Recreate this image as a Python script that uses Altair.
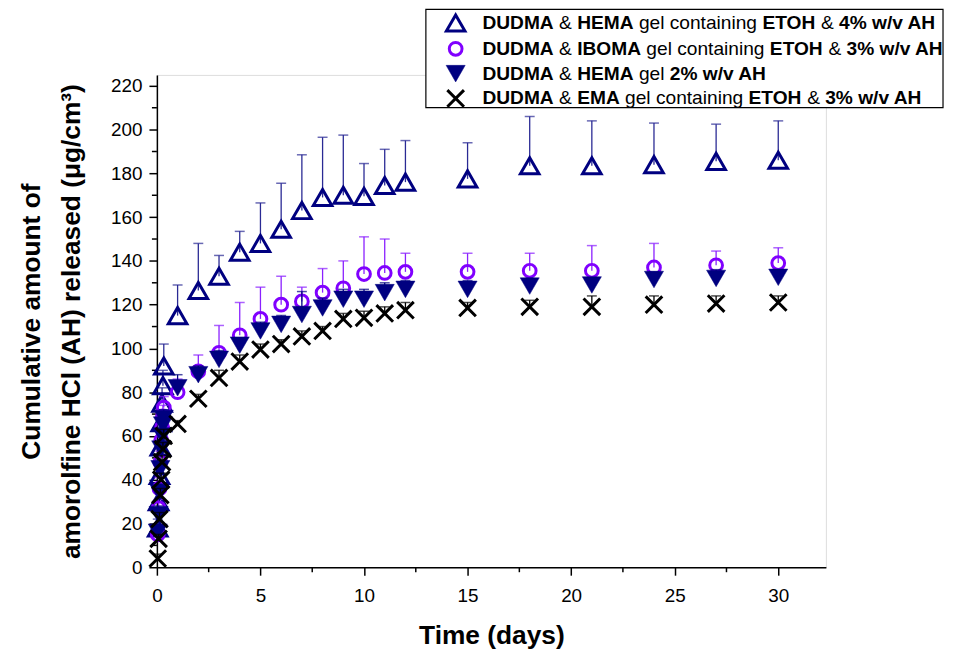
import altair as alt
import pandas as pd

# ---------------- data ----------------
early_t = [0.0417, 0.0833, 0.125, 0.1667, 0.2083, 0.25, 0.2917, 0.3333]
late_t = [1, 2, 3, 4, 5, 6, 7, 8, 9, 10, 11, 12, 15, 18, 21, 24, 27, 30]
times = early_t + late_t

s1_val = [18, 30, 42, 55, 66, 75, 83, 92,
          115, 126.5, 133, 144, 148, 154.5, 163, 169, 170, 169.5, 174.5, 176, 177.5, 183.5, 183.5, 184, 185.5, 186]
s1_err = [22, 36, 48, 62, 72, 82, 90, 102,
          129, 148, 142.5, 153.5, 166.5, 175.5, 188.5, 196.5, 197.5, 184.5, 191, 195, 194, 206, 204, 203, 202.5, 204]

s2_val = [15, 27, 36, 48, 58, 64, 69, 73,
          80, 89.5, 98, 106, 113.5, 120, 121.5, 125.5, 127.5, 134, 134.5, 135, 135, 135.5, 135.5, 137, 138, 139]
s2_err = [18, 31, 41, 53, 63, 69, 74, 78,
          86, 97, 110.5, 121, 128, 133, 128, 136.5, 140, 151, 150, 143.5, 143.5, 143.5, 147, 148, 144.5, 146]

s3_val = [16, 24, 34, 45, 54, 60, 65, 68,
          82, 88, 95, 101.5, 108, 111, 115.5, 118.5, 122.5, 122.5, 125.5, 127, 127, 128.5, 129, 131.5, 132, 132.5]
s3_err = [19, 28, 38, 49, 58, 64, 69, 72,
          88, 92, 99, 104, 112, 115, 126, 123, 127, 127, 130, 131, 131, 132, 132, 135, 136, 136]

s4_val = [4, 13, 22, 33, 40, 48, 54, 60,
          65.5, 77, 86.5, 94, 99.5, 102, 105.5, 108, 113.5, 114, 116, 117.5, 118.5, 119, 119, 120, 120.5, 121]
s4_err = [6, 15, 25, 36, 43, 51, 57, 63,
          67, 79, 90, 97, 102, 104, 108, 110, 116, 117, 119, 121, 121, 122, 124, 124, 124, 124]

x_ticks = [0, 5, 10, 15, 20, 25, 30]
x_minor = [2.5, 7.5, 12.5, 17.5, 22.5, 27.5]
y_ticks = list(range(0, 221, 20))
y_minor = list(range(10, 221, 20))

legend_rows = [
    [("DUDMA", True), (" & ", False), ("HEMA", True), (" gel containing ", False), ("ETOH", True), (" & ", False), ("4% w/v AH", True)],
    [("DUDMA", True), (" & ", False), ("IBOMA", True), (" gel containing ", False), ("ETOH", True), (" & ", False), ("3% w/v AH", True)],
    [("DUDMA", True), (" & ", False), ("HEMA", True), (" gel ", False), ("2% w/v AH", True)],
    [("DUDMA", True), (" & ", False), ("EMA", True), (" gel containing ", False), ("ETOH", True), (" & ", False), ("3% w/v AH", True)],
]

# ---------------- layout ----------------
W, H = 674, 496
XDOM = [0, 32.3]
YDOM = [0, 225]
FONT = "Liberation Sans"
XPATH = "M-1,-1L1,1M-1,1L1,-1"

xs = alt.Scale(domain=XDOM, nice=False, zero=False)
ys = alt.Scale(domain=YDOM, nice=False)

series = [
    dict(val=s1_val, err=s1_err, color="#000080", ecolor="#2a2a94", shape="triangle-up", filled=False, size=350, sw=3),
    dict(val=s2_val, err=s2_err, color="#8000FF", ecolor="#8a20ff", shape="circle", filled=False, size=165, sw=3),
    dict(val=s3_val, err=s3_err, color="#000080", ecolor="#000080", shape="triangle-down", filled=True, size=370, sw=0),
    dict(val=s4_val, err=s4_err, color="#000000", ecolor="#000000", shape=XPATH, filled=False, size=280, sw=3),
]

layers = []

# axes carrier
base_df = pd.DataFrame({"t": times, "v": s1_val})
axis_layer = alt.Chart(base_df).mark_point(opacity=0).encode(
    x=alt.X("t:Q", scale=xs, axis=alt.Axis(
        values=x_ticks, title="Time (days)", titleFontSize=26.5, titleFontWeight="bold",
        titleFont=FONT, titleY=77, titleBaseline="alphabetic", titleX=W / 2,
        labelFont=FONT, labelFontSize=19, labelColor="black", labelPadding=12,
        tickSize=8, tickWidth=1.5, tickColor="black", domainColor="black", domainWidth=1.5,
        grid=False, labelFlush=False)),
    y=alt.Y("v:Q", scale=ys, axis=alt.Axis(
        values=y_ticks, title=["Cumulative amount of", "amorolfine HCl (AH) released (μg/cm³)"],
        titleFontSize=26.5, titleFontWeight="bold", titleFont=FONT, titleAngle=-90,
        titleX=-118, titleY=H / 2, titleBaseline="alphabetic", titleAlign="center", titleLineHeight=40,
        labelFont=FONT, labelFontSize=19, labelColor="black", labelPadding=7,
        tickSize=8, tickWidth=1.5, tickColor="black", domainColor="black", domainWidth=1.5,
        grid=False, labelFlush=False)),
)
layers.append(axis_layer)

# minor ticks
xm_df = pd.DataFrame({"t": x_minor})
layers.append(alt.Chart(xm_df).mark_rule(color="black", strokeWidth=1.5).encode(
    x=alt.X("t:Q", scale=xs), y=alt.value(H), y2=alt.value(H + 5)))
ym_df = pd.DataFrame({"v": y_minor})
layers.append(alt.Chart(ym_df).mark_rule(color="black", strokeWidth=1.5).encode(
    y=alt.Y("v:Q", scale=ys), x=alt.value(0), x2=alt.value(-5)))

# series
for s in series:
    df = pd.DataFrame({"t": times, "v": s["val"], "e": s["err"]})
    bars = alt.Chart(df).mark_rule(color=s["ecolor"], strokeWidth=1.3).encode(
        x=alt.X("t:Q", scale=xs), y=alt.Y("v:Q", scale=ys), y2="e:Q")
    caps = alt.Chart(df).mark_tick(color=s["ecolor"], orient="horizontal", size=10, thickness=1.5).encode(
        x=alt.X("t:Q", scale=xs), y=alt.Y("e:Q", scale=ys))
    if s["filled"]:
        pts = alt.Chart(df).mark_point(shape=s["shape"], filled=True, fill=s["color"], stroke=s["color"],
                                       strokeWidth=0.5, size=s["size"], opacity=1)
    else:
        pts = alt.Chart(df).mark_point(shape=s["shape"], filled=False, stroke=s["color"],
                                       strokeWidth=s["sw"], size=s["size"], opacity=1)
    pts = pts.encode(x=alt.X("t:Q", scale=xs), y=alt.Y("v:Q", scale=ys))
    layers += [bars, caps, pts]

# ---------------- custom legend ----------------
REG = {' ': 278, '&': 667, 'g': 556, 'e': 556, 'l': 222, 'c': 500, 'o': 556, 'n': 556,
       't': 278, 'a': 556, 'i': 222}
BOLD = {'D': 722, 'U': 722, 'M': 833, 'A': 722, 'H': 722, 'E': 667, 'I': 278, 'B': 722,
        'O': 778, 'T': 611, '2': 556, '3': 556, '4': 556, '%': 889, ' ': 278, 'w': 778,
        '/': 278, 'v': 556}
LFS = 19.3
one = alt.Data(values=[{"a": 1}])

box = alt.Chart(one).mark_rect(fill="white", stroke="black", strokeWidth=1.2).encode(
    x=alt.value(271), x2=alt.value(792), y=alt.value(-66), y2=alt.value(33))
layers.append(box)

row_y = [-52.3, -26.3, -1.3, 23.7]
mark_x = 301
text_x0 = 328
for i, (s, row) in enumerate(zip(series, legend_rows)):
    yy = row_y[i]
    if s["filled"]:
        m = alt.Chart(one).mark_point(shape=s["shape"], filled=True, fill=s["color"], stroke=s["color"],
                                      strokeWidth=0.5, size=s["size"], opacity=1)
    else:
        m = alt.Chart(one).mark_point(shape=s["shape"], filled=False, stroke=s["color"],
                                      strokeWidth=s["sw"], size=s["size"], opacity=1)
    layers.append(m.encode(x=alt.value(mark_x), y=alt.value(yy)))
    cx = text_x0
    for frag, bold in row:
        table = BOLD if bold else REG
        lead = len(frag) - len(frag.lstrip(" "))
        core = frag.strip(" ")
        startx = cx + lead * 278 * LFS / 1000
        if core:
            layers.append(alt.Chart(one).mark_text(
                align="left", baseline="middle", font=FONT, fontSize=LFS,
                fontWeight="bold" if bold else "normal", color="black").encode(
                x=alt.value(startx), y=alt.value(yy), text=alt.value(core)))
        cx += sum(table.get(ch, 556) for ch in frag) * LFS / 1000

chart = alt.layer(*layers).properties(
    width=W, height=H,
    autosize=alt.AutoSizeParams(type="none"),
    padding={"left": 150, "top": 65, "right": 120, "bottom": 88},
).configure_view(stroke=None).configure(background="white")

chart.save("out.html", embed_options={"renderer": "svg", "actions": False})
